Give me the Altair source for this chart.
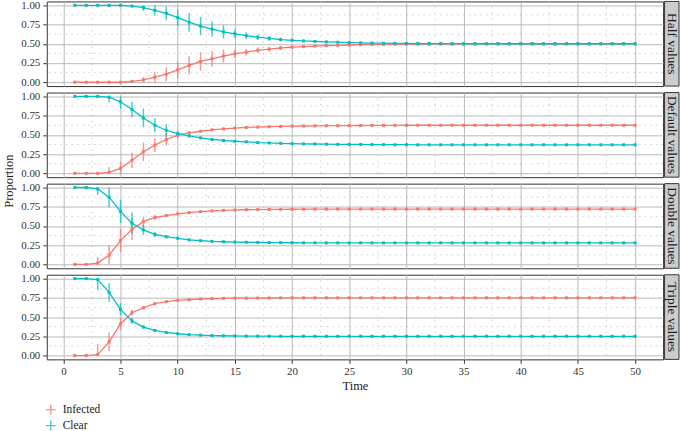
import altair as alt
import pandas as pd

time = list(range(1, 51))
panels = ["Half values", "Default values", "Double values", "Triple values"]
series = ["Infected", "Clear"]

half_infected = [0, 0, 0, 0, 0, 0.01, 0.03, 0.065, 0.105, 0.16,
                 0.22, 0.27, 0.305, 0.34, 0.37, 0.39, 0.415, 0.43, 0.445, 0.455,
                 0.463, 0.47, 0.476, 0.48, 0.484, 0.488, 0.491, 0.493, 0.495, 0.496,
                 0.497, 0.498, 0.498, 0.499, 0.499, 0.5, 0.5, 0.5, 0.5, 0.5,
                 0.5, 0.5, 0.5, 0.5, 0.5, 0.5, 0.5, 0.5, 0.5, 0.5]
half_clear = [1, 1, 1, 1, 1, 0.99, 0.97, 0.935, 0.895, 0.84,
              0.78, 0.73, 0.69, 0.655, 0.63, 0.605, 0.585, 0.57, 0.555, 0.545,
              0.537, 0.53, 0.524, 0.52, 0.516, 0.512, 0.509, 0.507, 0.505, 0.504,
              0.503, 0.502, 0.502, 0.501, 0.501, 0.5, 0.5, 0.5, 0.5, 0.5,
              0.5, 0.5, 0.5, 0.5, 0.5, 0.5, 0.5, 0.5, 0.5, 0.5]
half_sd = [0, 0, 0, 0, 0, 0.015, 0.04, 0.07, 0.09, 0.11,
           0.12, 0.12, 0.1, 0.085, 0.055, 0.045, 0.035, 0.03, 0.025, 0.02,
           0.015, 0.012, 0.01, 0.008, 0.006, 0.005, 0.004, 0.004, 0.003, 0.003,
           0.003, 0.002, 0.002, 0.002, 0.002, 0.002, 0.002, 0.002, 0.002, 0.002,
           0.002, 0.002, 0.002, 0.002, 0.002, 0.002, 0.002, 0.002, 0.002, 0.002]

default_infected = [0, 0, 0, 0.013, 0.065, 0.17, 0.28, 0.366, 0.44, 0.496,
                    0.526, 0.547, 0.565, 0.578, 0.588, 0.596, 0.601, 0.606, 0.61, 0.613,
                    0.615, 0.617, 0.619, 0.62, 0.621, 0.622, 0.623, 0.623, 0.624, 0.625,
                    0.625, 0.625, 0.625, 0.625, 0.625, 0.625, 0.625, 0.625, 0.625, 0.625,
                    0.625, 0.625, 0.625, 0.625, 0.625, 0.625, 0.625, 0.625, 0.625, 0.625]
default_clear = [1, 1, 1, 0.99, 0.93, 0.83, 0.72, 0.625, 0.56, 0.515,
                 0.487, 0.46, 0.44, 0.427, 0.417, 0.41, 0.4, 0.395, 0.39, 0.386,
                 0.383, 0.381, 0.379, 0.377, 0.376, 0.375, 0.374, 0.373, 0.372, 0.372,
                 0.371, 0.371, 0.371, 0.371, 0.371, 0.371, 0.371, 0.371, 0.371, 0.371,
                 0.371, 0.371, 0.371, 0.371, 0.371, 0.371, 0.371, 0.371, 0.371, 0.371]
default_sd = [0, 0, 0, 0.07, 0.09, 0.1, 0.12, 0.09, 0.08, 0.04,
              0.02, 0.012, 0.01, 0.008, 0.006, 0.005, 0.004, 0.004, 0.003, 0.003,
              0.003, 0.003, 0.002, 0.002, 0.002, 0.002, 0.002, 0.002, 0.002, 0.002,
              0.002, 0.002, 0.002, 0.002, 0.002, 0.002, 0.002, 0.002, 0.002, 0.002,
              0.002, 0.002, 0.002, 0.002, 0.002, 0.002, 0.002, 0.002, 0.002, 0.002]

double_infected = [0, 0, 0.017, 0.12, 0.31, 0.457, 0.556, 0.61, 0.635, 0.657,
                   0.674, 0.687, 0.696, 0.703, 0.708, 0.711, 0.713, 0.715, 0.716, 0.717,
                   0.718, 0.719, 0.719, 0.72, 0.72, 0.72, 0.72, 0.72, 0.72, 0.72,
                   0.72, 0.72, 0.72, 0.72, 0.72, 0.72, 0.72, 0.72, 0.72, 0.72,
                   0.72, 0.72, 0.72, 0.72, 0.72, 0.72, 0.72, 0.72, 0.72, 0.72]
double_clear = [1, 1, 0.983, 0.874, 0.69, 0.535, 0.448, 0.39, 0.36, 0.34,
                0.32, 0.309, 0.3, 0.295, 0.29, 0.288, 0.286, 0.284, 0.283, 0.282,
                0.281, 0.281, 0.28, 0.28, 0.28, 0.28, 0.28, 0.28, 0.28, 0.28,
                0.28, 0.28, 0.28, 0.28, 0.28, 0.28, 0.28, 0.28, 0.28, 0.28,
                0.28, 0.28, 0.28, 0.28, 0.28, 0.28, 0.28, 0.28, 0.28, 0.28]
double_sd = [0, 0, 0.08, 0.13, 0.15, 0.14, 0.065, 0.035, 0.02, 0.012,
             0.008, 0.006, 0.005, 0.004, 0.004, 0.003, 0.003, 0.003, 0.002, 0.002,
             0.002, 0.002, 0.002, 0.002, 0.002, 0.002, 0.002, 0.002, 0.002, 0.002,
             0.002, 0.002, 0.002, 0.002, 0.002, 0.002, 0.002, 0.002, 0.002, 0.002,
             0.002, 0.002, 0.002, 0.002, 0.002, 0.002, 0.002, 0.002, 0.002, 0.002]

triple_infected = [0, 0, 0.012, 0.178, 0.41, 0.557, 0.62, 0.674, 0.7, 0.717,
                   0.727, 0.735, 0.74, 0.743, 0.745, 0.746, 0.747, 0.748, 0.749, 0.75,
                   0.75, 0.75, 0.75, 0.75, 0.75, 0.75, 0.75, 0.75, 0.75, 0.75,
                   0.75, 0.75, 0.75, 0.75, 0.75, 0.75, 0.75, 0.75, 0.75, 0.75,
                   0.75, 0.75, 0.75, 0.75, 0.75, 0.75, 0.75, 0.75, 0.75, 0.75]
triple_clear = [1, 1, 0.988, 0.82, 0.6, 0.45, 0.37, 0.326, 0.3, 0.283,
                0.272, 0.265, 0.26, 0.257, 0.255, 0.253, 0.252, 0.251, 0.25, 0.25,
                0.25, 0.25, 0.25, 0.25, 0.25, 0.25, 0.25, 0.25, 0.25, 0.25,
                0.25, 0.25, 0.25, 0.25, 0.25, 0.25, 0.25, 0.25, 0.25, 0.25,
                0.25, 0.25, 0.25, 0.25, 0.25, 0.25, 0.25, 0.25, 0.25, 0.25]
triple_sd = [0, 0, 0.14, 0.12, 0.08, 0.04, 0.02, 0.01, 0.008, 0.006,
             0.005, 0.004, 0.003, 0.003, 0.002, 0.002, 0.002, 0.002, 0.002, 0.002,
             0.002, 0.002, 0.002, 0.002, 0.002, 0.002, 0.002, 0.002, 0.002, 0.002,
             0.002, 0.002, 0.002, 0.002, 0.002, 0.002, 0.002, 0.002, 0.002, 0.002,
             0.002, 0.002, 0.002, 0.002, 0.002, 0.002, 0.002, 0.002, 0.002, 0.002]

x_ticks = [0, 5, 10, 15, 20, 25, 30, 35, 40, 45, 50]
y_ticks = [0, 0.25, 0.5, 0.75, 1.0]
x_minor = [2.5, 7.5, 12.5, 17.5, 22.5, 27.5, 32.5, 37.5, 42.5, 47.5]
y_minor = [0.125, 0.375, 0.625, 0.875]

data = {
    "Half values": (half_infected, half_clear, half_sd),
    "Default values": (default_infected, default_clear, default_sd),
    "Double values": (double_infected, double_clear, double_sd),
    "Triple values": (triple_infected, triple_clear, triple_sd),
}

rows = []
for p in panels:
    inf, clr, sd = data[p]
    for s, vals in (("Infected", inf), ("Clear", clr)):
        for t, m, e in zip(time, vals, sd):
            rows.append({"panel": p, "series": s, "time": t, "mean": m,
                         "lo": max(0.0, m - e), "hi": min(1.0, m + e)})
df = pd.DataFrame(rows)

FONT = "Liberation Serif"
W, H = 619, 85
color_scale = alt.Scale(domain=series, range=["#F8766D", "#00BFC4"])
xscale = alt.Scale(domain=[-1.45, 52.45], nice=False, zero=False)
yscale = alt.Scale(domain=[-0.05, 1.05], nice=False, zero=False)


def panel_chart(i, name):
    d = df[df.panel == name]
    last = i == len(panels) - 1
    xaxis = alt.Axis(values=x_ticks, title="Time" if last else None,
                     labels=last, ticks=last, grid=True, domain=False,
                     labelPadding=2, titlePadding=3)
    if i == 1:
        yaxis = alt.Axis(values=y_ticks, format=".2f", title="Proportion",
                         grid=True, domain=False, titleY=H + 3.5, titleX=-31)
    else:
        yaxis = alt.Axis(values=y_ticks, format=".2f", title=None,
                         grid=True, domain=False)
    X = lambda f: alt.X(f, scale=xscale, axis=xaxis)
    Y = lambda f: alt.Y(f, scale=yscale, axis=yaxis)

    mx = alt.Chart(pd.DataFrame({"v": x_minor})).mark_rule(
        color="#bdbdbd", strokeWidth=0.9, strokeDash=[1.2, 4.5]).encode(x=X("v:Q"))
    my = alt.Chart(pd.DataFrame({"v": y_minor})).mark_rule(
        color="#bdbdbd", strokeWidth=0.9, strokeDash=[1.2, 4.5]).encode(y=Y("v:Q"))
    legend = None
    if i == 0:
        legend = alt.Legend(title=None, orient="none", legendX=-2, legendY=404,
                            symbolType="M-1,0H1M0,-1V1", symbolSize=100,
                            symbolStrokeWidth=1.4, labelFont=FONT, labelFontSize=11.5,
                            labelColor="#222", rowPadding=0, labelOffset=6)
    bars = alt.Chart(d).mark_rule(strokeWidth=1.5, opacity=0.75).encode(
        x=X("time:Q"), y=Y("lo:Q"), y2="hi:Q",
        color=alt.Color("series:N", scale=color_scale, legend=legend))
    line = alt.Chart(d).mark_line(strokeWidth=1.3).encode(
        x=X("time:Q"), y=Y("mean:Q"),
        color=alt.Color("series:N", scale=color_scale, legend=None))
    pts = alt.Chart(d).mark_point(filled=True, shape="square", size=9, opacity=1).encode(
        x=X("time:Q"), y=Y("mean:Q"),
        color=alt.Color("series:N", scale=color_scale, legend=None))
    lab = pd.DataFrame({"label": [name]})
    strip = alt.Chart(lab).mark_rect(fill="#cccccc", stroke="#333333", strokeWidth=1).encode(
        x=alt.value(W + 1.5), x2=alt.value(W + 16), y=alt.value(0), y2=alt.value(H))
    stext = alt.Chart(lab).mark_text(angle=90, font=FONT, fontSize=13.5, color="#1a1a1a",
                                     baseline="middle", align="center").encode(
        x=alt.value(W + 9), y=alt.value(H / 2), text="label:N")
    return alt.layer(mx, my, bars, line, pts, strip, stext).properties(width=W, height=H)


chart = alt.vconcat(*[panel_chart(i, p) for i, p in enumerate(panels)],
                    spacing=6.5, bounds="flush").properties(
    padding={"left": 2, "top": -2.5, "right": 0, "bottom": 0}
).configure_view(stroke="#333333", strokeWidth=1).configure_axis(
    labelFont=FONT, labelFontSize=11, labelColor="#333333",
    titleFont=FONT, titleFontSize=12.5, titleFontWeight="normal", titleColor="#1a1a1a",
    gridColor="#b8b8b8", gridWidth=1, tickColor="#333333", tickSize=4, tickWidth=1,
    labelPadding=3
).configure_legend(labelFont=FONT)

chart.save("out.html", embed_options={"renderer": "svg", "actions": False})
